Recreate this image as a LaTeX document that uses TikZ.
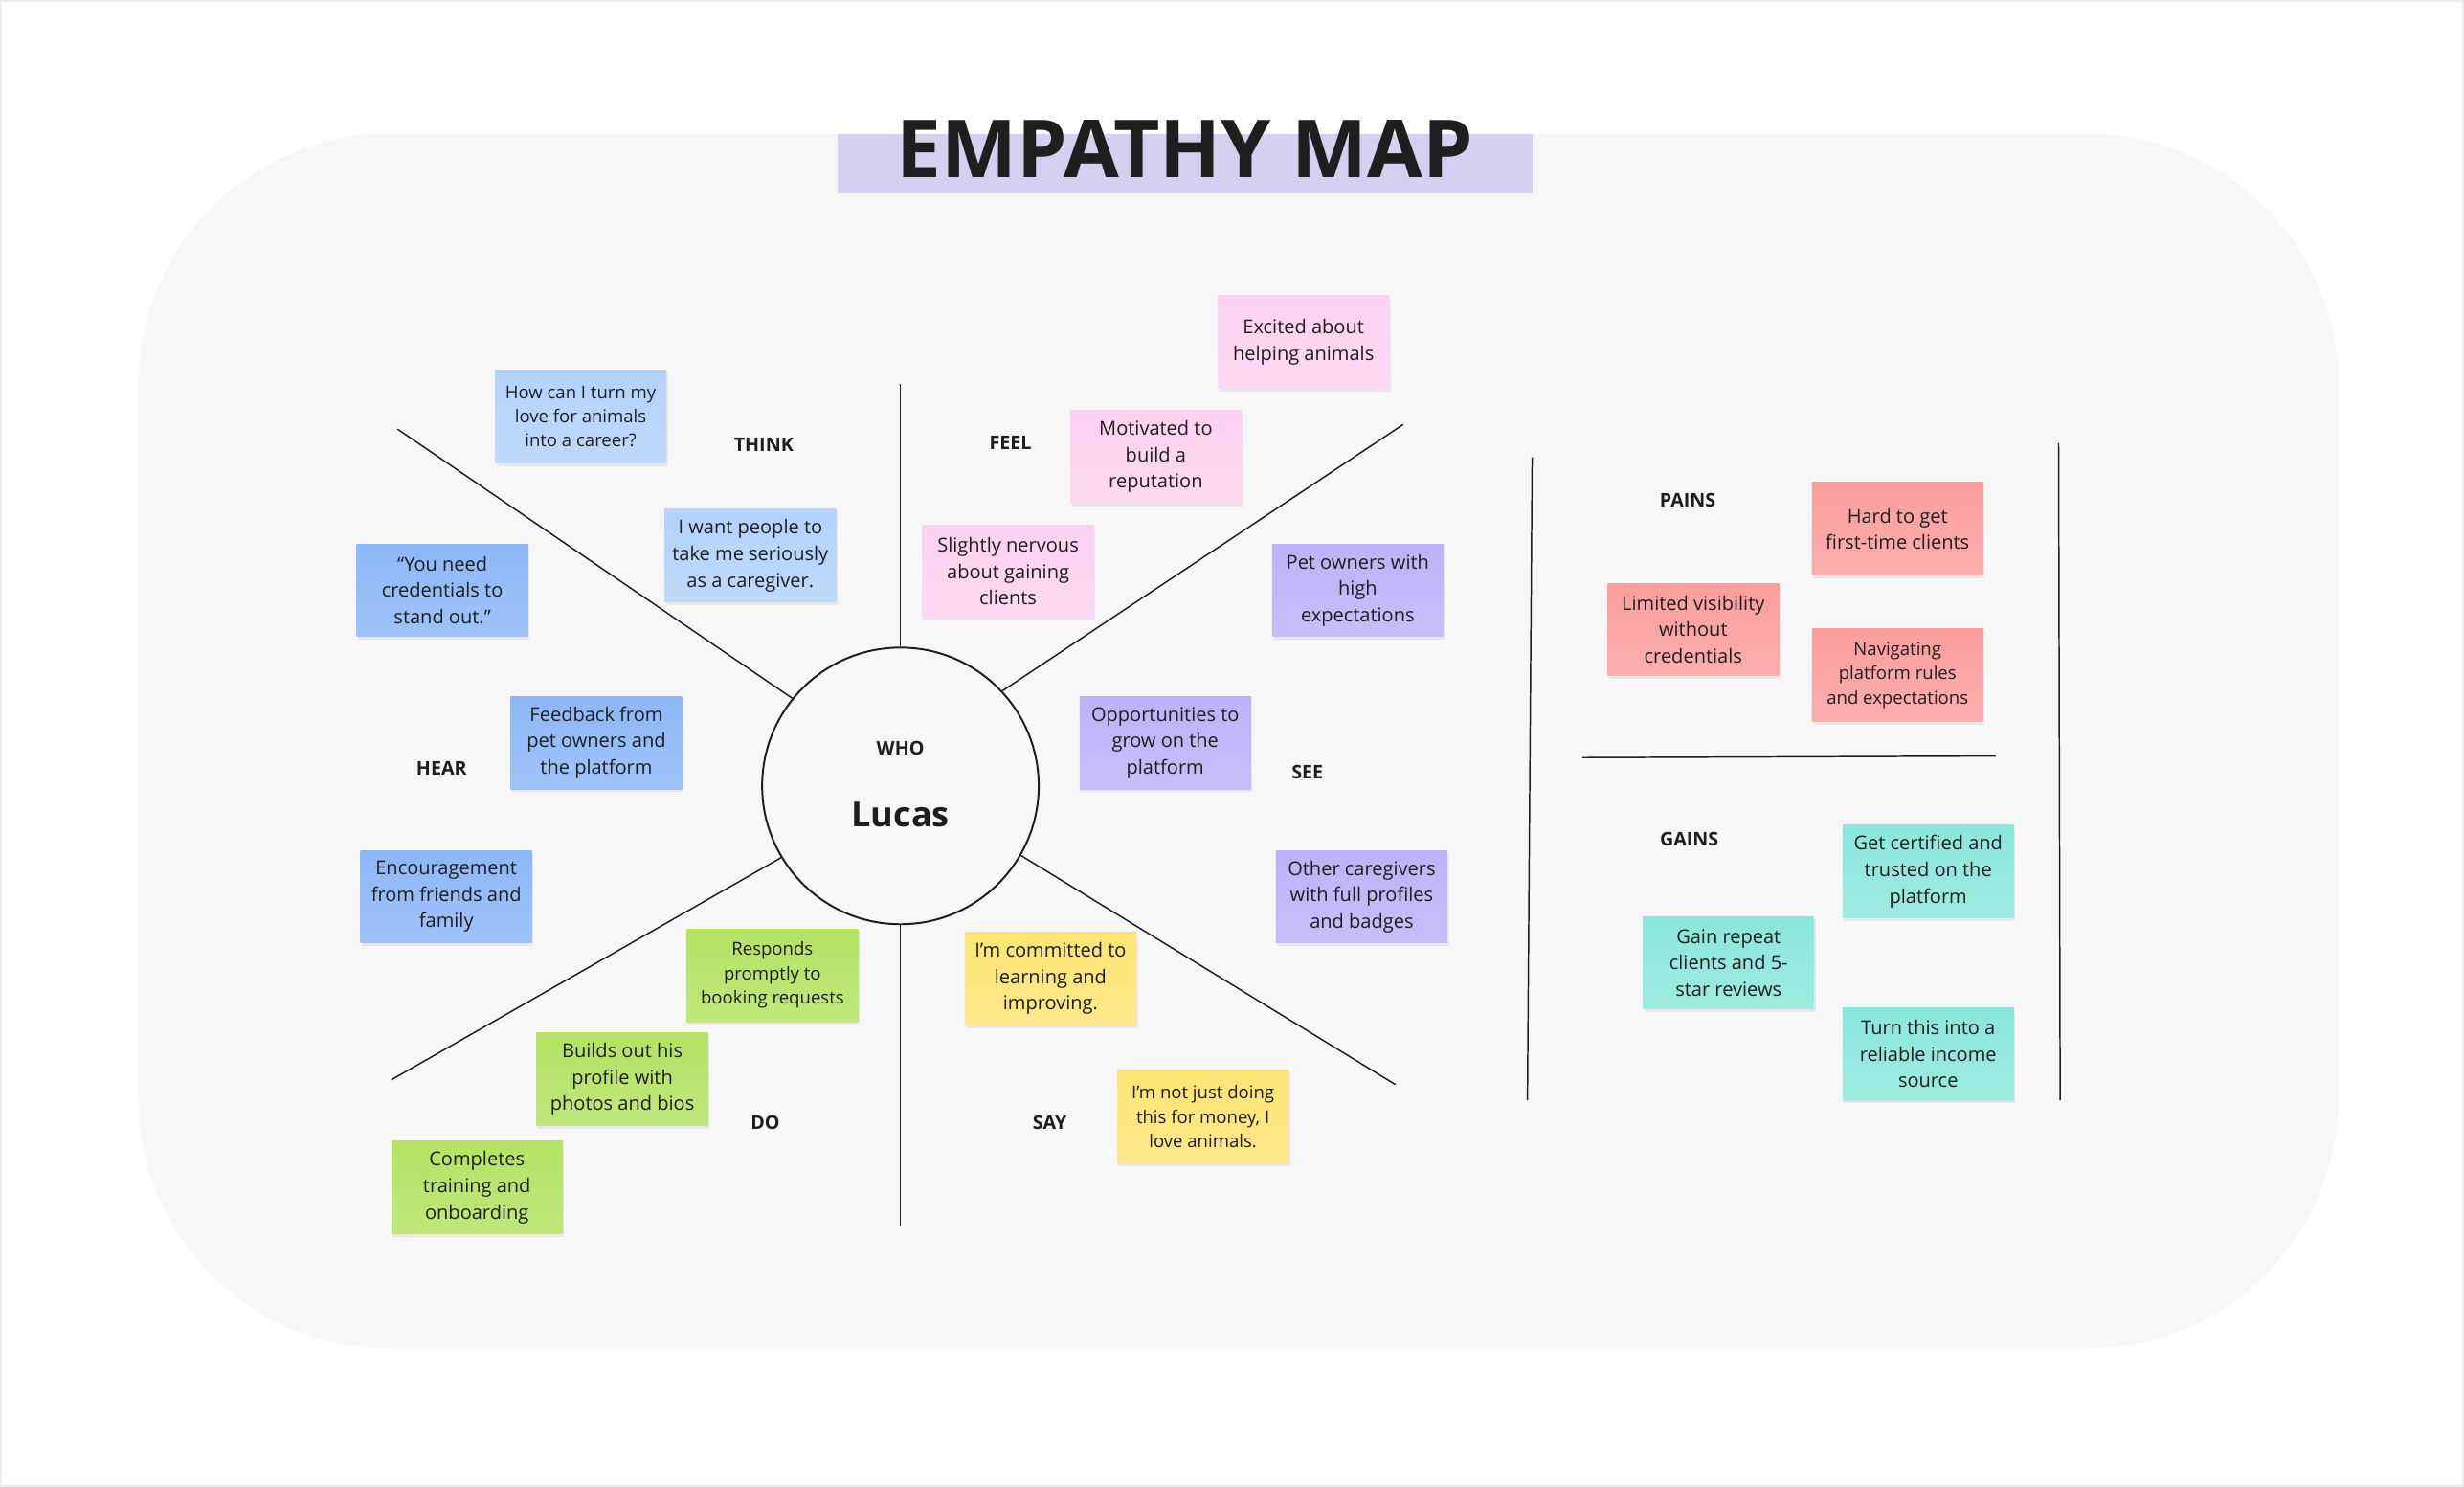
\documentclass[tikz,border=0pt]{standalone}
\usepackage{fontspec}
\setmainfont{Open Sans}
\usetikzlibrary{shadows}
\definecolor{ink}{HTML}{1E1E1E}
\definecolor{bgpanel}{HTML}{F7F7F7}
\definecolor{titlebg}{HTML}{D4D1F0}
\definecolor{cLightBlue}{HTML}{B3D2FC}
\definecolor{cMidBlue}{HTML}{8CB8F8}
\definecolor{cPink}{HTML}{FCD2F0}
\definecolor{cPurple}{HTML}{BDB2F8}
\definecolor{cGreen}{HTML}{B3E363}
\definecolor{cYellow}{HTML}{FDE574}
\definecolor{cRed}{HTML}{FC9E9E}
\definecolor{cTeal}{HTML}{8BE7DB}
\tikzset{
  note/.style={rectangle, minimum width=109pt, minimum height=59pt, inner sep=1pt,
    align=center, text=ink, font=\fontsize{12.2}{16.8}\selectfont,
    top color=#1, bottom color=#1!84!white,
    drop shadow={shadow xshift=1pt, shadow yshift=-2pt, opacity=0.12}},
  small/.style={font=\fontsize{11.3}{15.5}\selectfont},
  lbl/.style={text=ink, font=\fontsize{12}{14}\selectfont\bfseries},
  spoke/.style={draw=ink, line width=0.9pt},
}
\begin{document}
\begin{tikzpicture}[x=1pt,y=-1pt]
\useasboundingbox (0,0) rectangle (1568,946);
\fill[white] (0,0) rectangle (1568,946);
\draw[black!7, line width=1pt] (0.5,0.5) rectangle (1567.5,945.5);
\fill[bgpanel, rounded corners=160pt] (88,85) rectangle (1488,858);

% title
\fill[titlebg] (533,85) rectangle (975,123);
\node[anchor=base, text=ink, font=\fontsize{51}{55}\selectfont\bfseries, inner sep=0] (title) at (754,113) {EMPATHY MAP};

% centre
\node[circle, draw=ink, line width=1.2pt, minimum size=176pt, inner sep=0] (who) at (573,500) {};
\node[lbl] (wholbl) at (573,476) {WHO};
\node[text=ink, font=\fontsize{22}{24}\selectfont\bfseries] (lucas) at (573,518) {Lucas};

% spoke ends
\coordinate (eTop) at (573,244);
\coordinate (eBot) at (573,780);
\coordinate (eUL) at (253,273);
\coordinate (eUR) at (893,270);
\coordinate (eLL) at (249,687);
\coordinate (eLR) at (888,690);
\draw[spoke] (who.north) -- (eTop);
\draw[spoke] (who.south) -- (eBot);
\draw[spoke] (who.141) -- (eUL);
\draw[spoke] (who.43) -- (eUR);
\draw[spoke] (who.211) -- (eLL);
\draw[spoke] (who.-30) -- (eLR);

% right panel lines
\coordinate (pL1) at (975,291); \coordinate (pL2) at (972,700);
\coordinate (pR1) at (1310,282); \coordinate (pR2) at (1311,700);
\coordinate (pH1) at (1007,482); \coordinate (pH2) at (1270,481);
\draw[spoke] (pL1) -- (pL2);
\draw[spoke] (pR1) -- (pR2);
\draw[spoke] (pH1) -- (pH2);

% section labels
\node[lbl] (think) at (486,283) {THINK};
\node[lbl] (feel) at (643,282) {FEEL};
\node[lbl] (hear) at (281,489) {HEAR};
\node[lbl] (see) at (832,491) {SEE};
\node[lbl] (do) at (487,714) {DO};
\node[lbl] (say) at (668,714) {SAY};
\node[lbl] (pains) at (1074,318) {PAINS};
\node[lbl] (gains) at (1075,534) {GAINS};

% THINK
\node[note=cLightBlue, small] (think1) at (369.5,265) {How can I turn my\\love for animals\\into a career?};
\node[note=cLightBlue] (think2) at (477.5,353.5) {I want people to\\take me seriously\\as a caregiver.};
% HEAR
\node[note=cMidBlue] (hear1) at (281.5,375.5) {“You need\\credentials to\\stand out.”};
\node[note=cMidBlue] (hear2) at (379.5,472.5) {Feedback from\\pet owners and\\the platform};
\node[note=cMidBlue] (hear3) at (284,570.5) {Encouragement\\from friends and\\family};
% FEEL
\node[note=cPink] (feel1) at (829.5,217.5) {Excited about\\helping animals};
\node[note=cPink] (feel2) at (735.5,290.5) {Motivated to\\build a\\reputation};
\node[note=cPink] (feel3) at (641.5,363.5) {Slightly nervous\\about gaining\\clients};
% SEE
\node[note=cPurple] (see1) at (864,375.5) {Pet owners with\\high\\expectations};
\node[note=cPurple] (see2) at (741.5,472.5) {Opportunities to\\grow on the\\platform};
\node[note=cPurple] (see3) at (866.5,570.5) {Other caregivers\\with full profiles\\and badges};
% DO
\node[note=cGreen, small] (do1) at (491.5,620.5) {Responds\\promptly to\\booking requests};
\node[note=cGreen] (do2) at (396,686.5) {Builds out his\\profile with\\photos and bios};
\node[note=cGreen] (do3) at (303.5,755.5) {Completes\\training and\\onboarding};
% SAY
\node[note=cYellow] (say1) at (668.5,622.5) {I’m committed to\\learning and\\improving.};
\node[note=cYellow, small] (say2) at (765.5,710.5) {I’m not just doing\\this for money, I\\love animals.};
% PAINS
\node[note=cRed] (pain1) at (1207.5,336.5) {Hard to get\\first-time clients};
\node[note=cRed] (pain2) at (1077.5,400.5) {Limited visibility\\without\\credentials};
\node[note=cRed, small] (pain3) at (1207.5,429.5) {Navigating\\platform rules\\and expectations};
% GAINS
\node[note=cTeal] (gain1) at (1227,554.5) {Get certified and\\trusted on the\\platform};
\node[note=cTeal] (gain2) at (1100,612.5) {Gain repeat\\clients and 5-\\star reviews};
\node[note=cTeal] (gain3) at (1227,670.5) {Turn this into a\\reliable income\\source};
\end{tikzpicture}
\end{document}
